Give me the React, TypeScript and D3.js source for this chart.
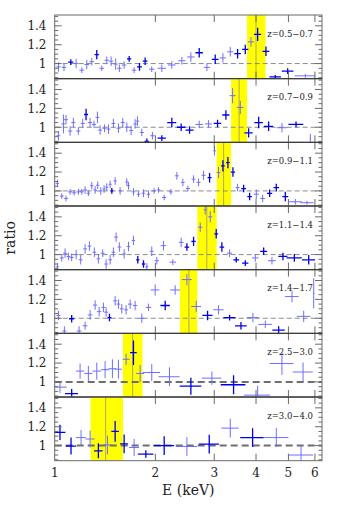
import React, { useRef, useEffect } from "react";
import * as d3 from "d3";

// redshift bins, one per panel (top to bottom)
const zLabels = ["z=0.5−0.7", "z=0.7−0.9", "z=0.9−1.1", "z=1.1−1.4", "z=1.4−1.7", "z=2.5−3.0", "z=3.0−4.0"];
// Fe line band (keV): low edge, high edge, centre
const bandLo = [3.76, 3.37, 3.05, 2.67, 2.37, 1.6, 1.28];
const bandHi = [4.27, 3.76, 3.37, 3.05, 2.67, 1.83, 1.6];
const bandMid = [4.0, 3.56, 3.2, 2.85, 2.52, 1.71, 1.42];

const xTicks = [1, 2, 3, 4, 5, 6];
const yMajor = [1, 1.2, 1.4];
const yMinor = [0.85, 0.9, 0.95, 1.05, 1.1, 1.15, 1.25, 1.3, 1.35, 1.45, 1.5];

// [E keV, ratio, dE, dRatio, dark]
const p1 = [
  [1.026, 0.965, 0.016, 0.05, 0], [1.066, 0.96, 0.017, 0.04, 0], [1.117, 1.015, 0.02, 0.03, 1],
  [1.159, 1.0, 0.018, 0.05, 0], [1.205, 0.93, 0.02, 0.03, 0], [1.247, 0.99, 0.02, 0.05, 0],
  [1.291, 1.02, 0.02, 0.04, 0], [1.336, 1.095, 0.02, 0.05, 1], [1.383, 0.95, 0.022, 0.03, 0],
  [1.431, 1.035, 0.022, 0.04, 0], [1.475, 1.025, 0.022, 0.05, 0], [1.522, 0.995, 0.022, 0.06, 0],
  [1.561, 0.95, 0.024, 0.04, 0], [1.613, 0.985, 0.025, 0.04, 0], [1.67, 1.05, 0.025, 0.03, 1],
  [1.728, 0.93, 0.027, 0.03, 0], [1.793, 0.965, 0.03, 0.04, 1], [1.864, 1.025, 0.03, 0.04, 1],
  [1.951, 0.94, 0.035, 0.03, 0], [2.091, 0.95, 0.06, 0.04, 0], [2.24, 0.985, 0.06, 0.04, 0],
  [2.4, 1.03, 0.06, 0.04, 0], [2.554, 1.07, 0.065, 0.05, 0], [2.705, 1.115, 0.07, 0.05, 1],
  [2.852, 0.96, 0.06, 0.04, 0], [3.02, 1.045, 0.07, 0.05, 1], [3.184, 1.06, 0.07, 0.05, 0],
  [3.35, 1.125, 0.07, 0.05, 0], [3.523, 1.105, 0.08, 0.05, 1], [3.715, 1.15, 0.08, 0.05, 1],
  [3.863, 1.23, 0.08, 0.05, 0], [4.045, 1.31, 0.1, 0.07, 1], [4.283, 1.13, 0.1, 0.05, 1],
  [4.567, 0.86, 0.18, 0.02, 1], [4.974, 0.92, 0.2, 0.03, 1], [5.617, 0.87, 0.4, 0.02, 0],
];
const p2 = [
  [1.026, 0.91, 0.014, 0.05, 0], [1.062, 1.035, 0.015, 0.1, 0], [1.081, 1.08, 0.015, 0.05, 0],
  [1.112, 0.96, 0.016, 0.05, 0], [1.137, 1.05, 0.016, 0.05, 0], [1.177, 0.96, 0.017, 0.04, 0],
  [1.213, 1.04, 0.017, 0.05, 0], [1.241, 1.135, 0.017, 0.06, 1], [1.276, 1.05, 0.018, 0.05, 0],
  [1.311, 1.03, 0.018, 0.04, 0], [1.342, 1.105, 0.018, 0.06, 0], [1.367, 0.97, 0.018, 0.05, 0],
  [1.409, 0.99, 0.02, 0.04, 0], [1.448, 0.98, 0.02, 0.05, 0], [1.498, 1.04, 0.02, 0.05, 0],
  [1.551, 0.99, 0.022, 0.05, 0], [1.598, 1.05, 0.022, 0.05, 0], [1.643, 1.0, 0.022, 0.05, 0],
  [1.692, 0.965, 0.022, 0.05, 0], [1.74, 1.035, 0.022, 0.05, 0], [1.768, 1.065, 0.022, 0.05, 0],
  [1.822, 0.945, 0.025, 0.04, 0], [1.886, 0.85, 0.03, 0.03, 1], [1.96, 0.91, 0.03, 0.04, 0],
  [2.091, 0.885, 0.06, 0.03, 1], [2.24, 1.05, 0.07, 0.05, 1], [2.389, 1.0, 0.07, 0.04, 1],
  [2.531, 0.97, 0.07, 0.04, 1], [2.705, 1.03, 0.07, 0.04, 0], [2.885, 1.035, 0.07, 0.04, 0],
  [3.069, 1.04, 0.08, 0.04, 1], [3.251, 1.13, 0.08, 0.05, 1], [3.404, 1.335, 0.07, 0.08, 0],
  [3.589, 1.21, 0.08, 0.07, 0], [3.801, 0.94, 0.11, 0.05, 1], [4.073, 1.05, 0.12, 0.06, 1],
  [4.363, 1.01, 0.14, 0.05, 1], [4.782, 0.995, 0.17, 0.05, 0], [5.268, 1.03, 0.27, 0.03, 1],
  [5.815, 0.88, 0.02, 0.05, 0],
];
const p3 = [
  [1.019, 1.08, 0.012, 0.04, 0], [1.05, 0.945, 0.014, 0.03, 0], [1.081, 0.92, 0.014, 0.03, 0],
  [1.112, 0.99, 0.015, 0.03, 0], [1.143, 0.98, 0.015, 0.03, 0], [1.177, 0.99, 0.015, 0.03, 0],
  [1.205, 0.99, 0.015, 0.03, 0], [1.233, 1.01, 0.015, 0.04, 0], [1.261, 0.975, 0.015, 0.03, 0],
  [1.291, 1.055, 0.015, 0.04, 0], [1.321, 1.01, 0.015, 0.04, 0], [1.345, 1.06, 0.015, 0.04, 0],
  [1.373, 1.0, 0.015, 0.04, 0], [1.405, 1.02, 0.015, 0.04, 0], [1.431, 1.04, 0.015, 0.04, 0],
  [1.465, 1.07, 0.015, 0.04, 0], [1.482, 1.0, 0.015, 0.03, 1], [1.516, 1.105, 0.016, 0.04, 0],
  [1.569, 1.0, 0.016, 0.04, 0], [1.643, 1.095, 0.017, 0.04, 0], [1.662, 1.055, 0.017, 0.04, 0],
  [1.72, 0.99, 0.02, 0.04, 0], [1.78, 0.965, 0.02, 0.03, 0], [1.843, 0.975, 0.022, 0.04, 0],
  [1.907, 0.965, 0.022, 0.04, 0], [1.983, 1.0, 0.025, 0.03, 0], [2.044, 1.01, 0.025, 0.03, 0],
  [2.125, 0.93, 0.03, 0.03, 0], [2.225, 0.99, 0.03, 0.03, 0], [2.319, 1.16, 0.03, 0.04, 0],
  [2.417, 1.09, 0.03, 0.04, 0], [2.502, 1.025, 0.035, 0.03, 0], [2.602, 1.125, 0.035, 0.04, 0],
  [2.693, 1.09, 0.035, 0.04, 0], [2.787, 1.165, 0.04, 0.05, 0], [2.905, 1.14, 0.04, 0.05, 1],
  [3.006, 1.425, 0.03, 0.05, 0], [3.09, 1.195, 0.04, 0.06, 0], [3.184, 1.265, 0.04, 0.06, 1],
  [3.296, 1.3, 0.04, 0.06, 1], [3.412, 1.2, 0.05, 0.05, 1], [3.523, 1.035, 0.05, 0.04, 0],
  [3.673, 1.025, 0.06, 0.04, 1], [3.827, 0.94, 0.06, 0.04, 1], [4.007, 0.965, 0.07, 0.05, 0],
  [4.187, 0.92, 0.07, 0.04, 0], [4.393, 0.975, 0.08, 0.04, 1], [4.599, 1.035, 0.09, 0.04, 1],
  [4.894, 0.94, 0.1, 0.05, 1], [5.244, 0.885, 0.24, 0.03, 0], [5.683, 0.875, 0.26, 0.02, 0],
];
const p4 = [
  [1.019, 0.87, 0.012, 0.04, 0], [1.05, 0.965, 0.014, 0.04, 0], [1.074, 1.015, 0.014, 0.05, 0],
  [1.099, 0.98, 0.014, 0.04, 0], [1.124, 0.97, 0.015, 0.04, 0], [1.159, 1.0, 0.015, 0.05, 0],
  [1.196, 0.945, 0.016, 0.05, 0], [1.233, 1.06, 0.016, 0.05, 0], [1.27, 1.09, 0.016, 0.05, 0],
  [1.314, 1.025, 0.017, 0.05, 0], [1.351, 0.955, 0.017, 0.05, 0], [1.392, 1.015, 0.018, 0.04, 0],
  [1.425, 0.9, 0.018, 0.05, 0], [1.465, 0.945, 0.018, 0.05, 0], [1.498, 1.025, 0.018, 0.05, 0],
  [1.526, 1.185, 0.02, 0.05, 0], [1.561, 1.08, 0.02, 0.05, 0], [1.613, 1.007, 0.02, 0.05, 0],
  [1.662, 1.085, 0.02, 0.05, 0], [1.72, 1.15, 0.02, 0.05, 0], [1.772, 0.945, 0.02, 0.04, 1],
  [1.843, 0.9, 0.02, 0.04, 1], [1.886, 0.87, 0.02, 0.04, 0], [1.951, 1.035, 0.025, 0.05, 0],
  [2.02, 0.935, 0.03, 0.04, 0], [2.115, 1.095, 0.04, 0.05, 0], [2.256, 0.92, 0.05, 0.03, 0],
  [2.389, 1.13, 0.04, 0.05, 0], [2.485, 1.08, 0.04, 0.04, 1], [2.602, 1.14, 0.04, 0.05, 1],
  [2.724, 1.29, 0.04, 0.05, 0], [2.819, 1.475, 0.03, 0.05, 0], [2.918, 1.4, 0.04, 0.06, 0],
  [3.041, 1.22, 0.04, 0.05, 1], [3.162, 1.08, 0.05, 0.05, 1], [3.334, 1.015, 0.06, 0.04, 0],
  [3.491, 0.945, 0.07, 0.03, 1], [3.715, 0.91, 0.08, 0.03, 1], [3.98, 0.965, 0.09, 0.04, 0],
  [4.216, 1.035, 0.1, 0.04, 1], [4.464, 0.935, 0.12, 0.04, 0], [4.815, 0.98, 0.15, 0.04, 1],
  [5.208, 0.965, 0.27, 0.04, 1], [5.749, 0.945, 0.26, 0.05, 1],
];
const p5 = [
  [1.026, 1.03, 0.014, 0.05, 0], [1.069, 0.865, 0.015, 0.05, 0], [1.124, 0.995, 0.02, 0.04, 1],
  [1.183, 0.865, 0.02, 0.05, 0], [1.233, 0.92, 0.02, 0.04, 0], [1.276, 1.035, 0.02, 0.05, 0],
  [1.321, 1.14, 0.02, 0.05, 0], [1.358, 1.07, 0.02, 0.05, 0], [1.399, 1.115, 0.02, 0.05, 0],
  [1.425, 1.065, 0.02, 0.05, 0], [1.458, 1.007, 0.02, 0.04, 1], [1.516, 1.185, 0.02, 0.05, 0],
  [1.551, 1.15, 0.02, 0.05, 0], [1.587, 1.1, 0.02, 0.05, 0], [1.635, 1.09, 0.02, 0.05, 0],
  [1.681, 1.15, 0.025, 0.05, 0], [1.74, 1.135, 0.025, 0.05, 0], [1.822, 1.0, 0.03, 0.05, 0],
  [1.907, 1.115, 0.035, 0.04, 0], [1.997, 1.3, 0.06, 0.06, 0], [2.14, 1.135, 0.07, 0.05, 1],
  [2.292, 1.3, 0.08, 0.05, 0], [2.485, 1.41, 0.085, 0.06, 0], [2.65, 1.125, 0.09, 0.06, 0],
  [2.865, 1.03, 0.1, 0.05, 1], [3.09, 1.09, 0.11, 0.05, 0], [3.334, 1.007, 0.14, 0.03, 1],
  [3.606, 0.92, 0.145, 0.04, 1], [3.916, 1.007, 0.16, 0.05, 0], [4.264, 0.935, 0.2, 0.04, 0],
  [4.674, 0.875, 0.2, 0.04, 1], [5.125, 1.23, 0.24, 0.06, 0], [5.554, 1.02, 0.26, 0.06, 0],
  [5.95, 1.265, 0.03, 0.16, 0],
];
const p6 = [
  [1.037, 0.945, 0.05, 0.06, 0], [1.124, 0.875, 0.05, 0.05, 1], [1.191, 1.115, 0.035, 0.08, 0],
  [1.261, 1.09, 0.035, 0.08, 0], [1.336, 1.115, 0.04, 0.09, 0], [1.415, 1.13, 0.04, 0.09, 0],
  [1.488, 1.14, 0.04, 0.1, 0], [1.551, 1.135, 0.04, 0.1, 0], [1.635, 1.24, 0.04, 0.06, 0],
  [1.72, 1.31, 0.04, 0.13, 1], [1.801, 1.09, 0.05, 0.09, 0], [1.951, 1.1, 0.115, 0.09, 0],
  [2.204, 1.055, 0.16, 0.1, 0], [2.554, 0.955, 0.19, 0.09, 1], [2.952, 1.04, 0.2, 0.07, 0],
  [3.427, 0.97, 0.29, 0.1, 1], [4.045, 0.86, 0.36, 0.1, 0], [4.782, 1.195, 0.39, 0.12, 0],
  [5.529, 1.105, 0.38, 0.1, 0],
];
const p7 = [
  [1.037, 1.14, 0.04, 0.08, 1], [1.119, 0.995, 0.04, 0.09, 1], [1.199, 1.085, 0.04, 0.08, 0],
  [1.276, 1.07, 0.04, 0.09, 0], [1.351, 0.945, 0.04, 0.08, 1], [1.438, 1.007, 0.04, 0.1, 0],
  [1.516, 1.15, 0.04, 0.11, 1], [1.613, 1.018, 0.045, 0.1, 1], [1.728, 0.98, 0.06, 0.09, 0],
  [1.873, 0.91, 0.1, 0.04, 1], [2.125, 1.0, 0.15, 0.1, 1], [2.485, 0.99, 0.18, 0.1, 0],
  [2.898, 1.015, 0.2, 0.1, 1], [3.35, 1.185, 0.2, 0.1, 0], [3.907, 1.085, 0.32, 0.1, 1],
  [4.599, 1.085, 0.4, 0.1, 0], [5.453, 0.9, 0.47, 0.1, 0],
];
const panels = [p1, p2, p3, p4, p5, p6, p7];

const App = () => {
  const svgRef = useRef(null);

  useEffect(() => {
    const svg = d3.select(svgRef.current);
    svg.selectAll("*").remove();

    const left = 54.7, right = 322, top = 15, panelH = 63.67;
    const n = panels.length;
    const bottom = top + n * panelH;

    const x = d3.scaleLog().domain([1, 6.3]).range([left, right]);
    const y = d3.scaleLinear().domain([0.84, 1.515]).range([panelH, 0]);

    const axisColor = "#6a6a6a";
    const serif = "'DejaVu Serif', serif";

    panels.forEach((pts, i) => {
      const g = svg.append("g").attr("transform", `translate(0,${top + i * panelH})`);

      g.append("clipPath").attr("id", `clip${i}`)
        .append("rect").attr("x", left).attr("y", 0).attr("width", right - left).attr("height", panelH);
      const inner = g.append("g").attr("clip-path", `url(#clip${i})`);

      // yellow band for the redshifted line
      inner.append("rect")
        .attr("x", x(bandLo[i])).attr("y", 0)
        .attr("width", x(bandHi[i]) - x(bandLo[i])).attr("height", panelH)
        .attr("fill", "#ffff00");
      inner.append("line")
        .attr("x1", x(bandMid[i])).attr("x2", x(bandMid[i]))
        .attr("y1", 0).attr("y2", panelH)
        .attr("stroke", "#b9a455").attr("stroke-width", 1);

      // ratio = 1 reference
      const thick = i >= 5;
      inner.append("line")
        .attr("x1", left).attr("x2", right)
        .attr("y1", y(1)).attr("y2", y(1))
        .attr("stroke", thick ? "#6e6e6e" : "#8a8a8a")
        .attr("stroke-width", thick ? 2 : 1)
        .attr("stroke-dasharray", thick ? "7,4" : "5,3");

      // data crosses
      pts.forEach(([e, r, de, dr, dark]) => {
        const col = dark ? "#0000e6" : "#6e6eff";
        const sw = dark ? 1.3 : 1;
        inner.append("line")
          .attr("x1", x(e - de)).attr("x2", x(e + de))
          .attr("y1", y(r)).attr("y2", y(r))
          .attr("stroke", col).attr("stroke-width", sw);
        inner.append("line")
          .attr("x1", x(e)).attr("x2", x(e))
          .attr("y1", y(r - dr)).attr("y2", y(r + dr))
          .attr("stroke", col).attr("stroke-width", sw);
      });

      // frame
      g.append("rect")
        .attr("x", left).attr("y", 0).attr("width", right - left).attr("height", panelH)
        .attr("fill", "none").attr("stroke", axisColor).attr("stroke-width", 1);

      // y ticks, both sides
      yMajor.concat(yMinor).forEach((v) => {
        const len = yMajor.includes(v) ? 7 : 3.5;
        g.append("line").attr("x1", left).attr("x2", left + len)
          .attr("y1", y(v)).attr("y2", y(v)).attr("stroke", axisColor);
        g.append("line").attr("x1", right).attr("x2", right - len)
          .attr("y1", y(v)).attr("y2", y(v)).attr("stroke", axisColor);
      });
      yMajor.forEach((v) => {
        g.append("text")
          .attr("x", 46.5).attr("y", y(v)).attr("dy", "0.36em")
          .attr("text-anchor", "end")
          .style("font-family", serif).style("font-size", "12px").attr("fill", "#222")
          .text(v === 1 ? "1" : d3.format(".1f")(v));
      });

      // x ticks top and bottom
      xTicks.slice(1).forEach((v) => {
        g.append("line").attr("x1", x(v)).attr("x2", x(v))
          .attr("y1", 0).attr("y2", 7).attr("stroke", axisColor);
        g.append("line").attr("x1", x(v)).attr("x2", x(v))
          .attr("y1", panelH).attr("y2", panelH - 7).attr("stroke", axisColor);
      });

      g.append("text")
        .attr("x", 313).attr("y", 21.5)
        .attr("text-anchor", "end")
        .style("font-family", serif).style("font-size", "8.5px").attr("fill", "#222")
        .text(zLabels[i]);
    });

    // panel separators
    for (let i = 1; i < n; i++) {
      svg.append("line")
        .attr("x1", left).attr("x2", right)
        .attr("y1", top + i * panelH).attr("y2", top + i * panelH)
        .attr("stroke", "#333").attr("stroke-width", 1);
    }

    // x tick labels
    xTicks.forEach((v) => {
      svg.append("text")
        .attr("x", x(v)).attr("y", bottom + 16)
        .attr("text-anchor", "middle")
        .style("font-family", serif).style("font-size", "12px").attr("fill", "#222")
        .text(v);
    });

    svg.append("text")
      .attr("x", (left + right) / 2).attr("y", 495)
      .attr("text-anchor", "middle")
      .style("font-family", serif).style("font-size", "14px").attr("fill", "#222")
      .text("E (keV)");

    svg.append("text")
      .attr("transform", `translate(15,${(top + bottom) / 2}) rotate(-90)`)
      .attr("text-anchor", "middle")
      .style("font-family", serif).style("font-size", "14px").attr("fill", "#222")
      .text("ratio");
  }, []);

  return (
    <svg ref={svgRef} width={354} height={505}
      style={{ position: "absolute", left: 0, top: 0, background: "#fff" }}></svg>
  );
};

export default App;
